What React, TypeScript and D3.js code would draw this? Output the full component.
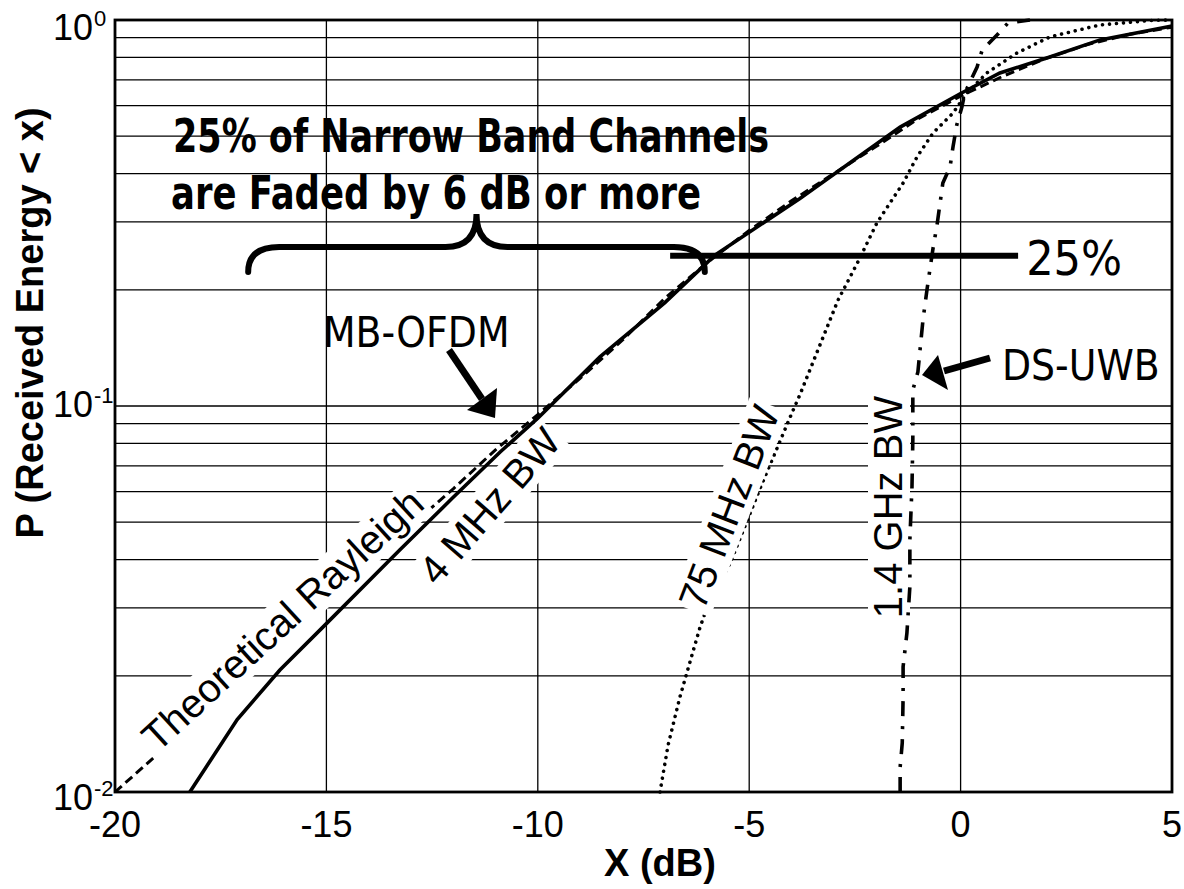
import React, { useEffect, useRef } from 'react';
import * as d3 from 'd3';

const W = 1184;
const H = 889;

// axes
const xDomain = [-20, 5];
const yDomain = [0.01, 1];
const xTicks = [-20, -15, -10, -5, 0, 5];
const xGridTicks = [-15, -10, -5, 0];
const yDecades = [1, 0.1, 0.01];
const yExponents = ['0', '-1', '-2'];
const yGridMultipliers = [1, 2, 3, 4, 5, 6, 7, 8, 9];
const yGridDecades = [0.01, 0.1];

// Theoretical Rayleigh (dashed)
const rayleighX = [-20, -19, -18, -17, -16, -15, -14, -13, -12, -11, -10, -9, -8, -7, -6, -5, -4, -3, -2, -1, 0, 1, 2, 3, 4, 5];
const rayleighP = [0.01, 0.0125, 0.0157, 0.0198, 0.0248, 0.031, 0.039, 0.049, 0.061, 0.077, 0.095, 0.118, 0.148, 0.19, 0.235, 0.285, 0.34, 0.4, 0.47, 0.555, 0.635, 0.715, 0.794, 0.864, 0.918, 0.958];

// 4 MHz BW (solid, MB-OFDM)
const bw4X = [-18.23, -17.11, -16.1, -15.03, -13.26, -12.0, -10.89, -10.0, -8.53, -7.0, -5.81, -3.8, -1.43, 0, 0.93, 2.11, 3.3, 5.0];
const bw4P = [0.01, 0.0154, 0.0207, 0.0271, 0.0424, 0.058, 0.076, 0.093, 0.134, 0.185, 0.246, 0.345, 0.528, 0.645, 0.729, 0.802, 0.888, 0.965];

// 75 MHz BW (dotted)
const bw75X = [-7.11, -6.92, -6.64, -6.16, -5.93, -5.45, -4.74, -3.99, -3.8, -2.9, -2.43, -1.98, -1.36, -1.03, -0.65, -0.18, 0.15, 0.62, 1.33, 2.11, 3.3, 4.48, 5.0];
const bw75P = [0.01, 0.0132, 0.0176, 0.0268, 0.0314, 0.0392, 0.0613, 0.0959, 0.107, 0.188, 0.236, 0.298, 0.378, 0.442, 0.51, 0.574, 0.647, 0.729, 0.821, 0.904, 0.971, 0.997, 1.0];

// 1.4 GHz BW (dash-dot, DS-UWB)
const bwGX = [-1.43, -1.43, -1.38, -1.36, -1.36, -1.27, -1.2, -1.2, -1.15, -1.13, -1.13, -1.13, -1.01, -0.96, -0.89, -0.79, -0.72, -0.65, -0.56, -0.42, -0.25, -0.18, -0.09, 0.03, 0.1, 0.39, 0.51, 0.86, 1.12, 1.64];
const bwGP = [0.01, 0.0116, 0.0134, 0.0176, 0.0211, 0.0258, 0.034, 0.045, 0.0617, 0.0816, 0.0948, 0.11, 0.1225, 0.1396, 0.167, 0.202, 0.228, 0.257, 0.293, 0.378, 0.416, 0.469, 0.535, 0.595, 0.647, 0.755, 0.836, 0.914, 0.982, 1.0];

const ARIAL = "'Liberation Sans', Arial, sans-serif";
const TAHOMA = "'DejaVu Sans Condensed', 'DejaVu Sans', sans-serif";

export default function App() {
  const ref = useRef<SVGSVGElement>(null);

  useEffect(() => {
    const svg = d3.select(ref.current);
    svg.selectAll('*').remove();

    const x = d3.scaleLinear().domain(xDomain).range([115, 1172]);
    const y = d3.scaleLog().domain(yDomain).range([792, 20]);
    const [x0, x1] = x.range();
    const [y0, y1] = y.range();

    svg.append('rect').attr('width', W).attr('height', H).attr('fill', '#fff');

    // gridlines
    const hVals: number[] = [];
    yGridDecades.forEach((d) => yGridMultipliers.forEach((m) => hVals.push(m * d)));
    hVals.push(1);
    svg.append('g').selectAll('line').data(hVals).join('line')
      .attr('x1', x0).attr('x2', x1)
      .attr('y1', (d) => y(d)).attr('y2', (d) => y(d))
      .attr('stroke', '#000').attr('stroke-width', 1.3);
    svg.append('g').selectAll('line').data(xGridTicks).join('line')
      .attr('x1', (d) => x(d)).attr('x2', (d) => x(d))
      .attr('y1', y1).attr('y2', y0)
      .attr('stroke', '#000').attr('stroke-width', 1.3);

    const line = d3.line<[number, number]>().x((d) => x(d[0])).y((d) => y(d[1]));
    const zip = (a: number[], b: number[]) => a.map((v, i) => [v, b[i]] as [number, number]);

    // curves behind label boxes
    svg.append('path').attr('d', line(zip(rayleighX, rayleighP)))
      .attr('fill', 'none').attr('stroke', '#000').attr('stroke-width', 3)
      .attr('stroke-dasharray', '9,5');
    svg.append('path').attr('d', line(zip(bw75X, bw75P)))
      .attr('fill', 'none').attr('stroke', '#000').attr('stroke-width', 3.6)
      .attr('stroke-linecap', 'round').attr('stroke-dasharray', '0.01,7');

    // rotated labels with white boxes
    const labels = [
      { text: 'Theoretical Rayleigh', cx: 292, cy: 630, rot: -42.5 },
      { text: '4 MHz BW', cx: 500, cy: 515, rot: -49 },
      { text: '75 MHz BW', cx: 742, cy: 512, rot: -69 },
      { text: '1.4 GHz BW', cx: 902, cy: 507, rot: -90 },
    ];
    const labelGroups = labels.map((l) => {
      const g = svg.append('g').attr('transform', `translate(${l.cx},${l.cy}) rotate(${l.rot})`);
      const r = g.append('rect').attr('fill', '#fff');
      const t = g.append('text').attr('text-anchor', 'middle').attr('font-family', ARIAL)
        .attr('font-size', 40).attr('fill', '#000').text(l.text);
      return { g, r, t };
    });
    labelGroups.forEach(({ r, t }) => {
      const bb = (t.node() as SVGTextElement).getBBox();
      const pad = 3;
      r.attr('x', bb.x - pad).attr('y', bb.y + 2).attr('width', bb.width + 2 * pad).attr('height', bb.height - 2);
    });
    const labelLayer = svg.append('g');

    svg.append('path').attr('d', line(zip(bw4X, bw4P)))
      .attr('fill', 'none').attr('stroke', '#000').attr('stroke-width', 3.6);
    svg.append('path').attr('d', line(zip(bwGX, bwGP)))
      .attr('fill', 'none').attr('stroke', '#000').attr('stroke-width', 3.6)
      .attr('stroke-dasharray', '15,10,3,10');

    labelGroups.forEach(({ g, t }) => {
      const tr = g.attr('transform');
      labelLayer.append('g').attr('transform', tr).node()!.appendChild(t.node() as Node);
    });

    // 25% bar
    const pBar = 0.245;
    svg.append('line').attr('x1', x(-6.87)).attr('x2', x(1.36)).attr('y1', y(pBar)).attr('y2', y(pBar))
      .attr('stroke', '#000').attr('stroke-width', 6);
    svg.append('text').attr('x', x(1.55)).attr('y', y(pBar) + 19).attr('font-family', TAHOMA)
      .attr('font-size', 48).text('25%');

    // brace
    const bl = x(-16.85), br = x(-6.05), bm = (bl + br) / 2;
    const by = 247, bEnd = 272, bTop = 214, r = 31;
    svg.append('path')
      .attr('d', `M${bl},${bEnd} Q${bl},${by} ${bl + r},${by} L${bm - r},${by} Q${bm},${by} ${bm},${bTop} Q${bm},${by} ${bm + r},${by} L${br - r},${by} Q${br},${by} ${br},${bEnd}`)
      .attr('fill', 'none').attr('stroke', '#000').attr('stroke-width', 6).attr('stroke-linecap', 'round');

    svg.append('text').attr('x', 173).attr('y', 152).attr('font-family', TAHOMA).attr('font-weight', 'bold')
      .attr('font-size', 46).attr('textLength', 596).attr('lengthAdjust', 'spacingAndGlyphs')
      .text('25% of Narrow Band Channels');
    svg.append('text').attr('x', 171).attr('y', 209).attr('font-family', TAHOMA).attr('font-weight', 'bold')
      .attr('font-size', 46).attr('textLength', 530).attr('lengthAdjust', 'spacingAndGlyphs')
      .text('are Faded by 6 dB or more');

    // MB-OFDM label + arrow
    svg.append('text').attr('x', 323).attr('y', 347).attr('font-family', TAHOMA).attr('font-size', 42).text('MB-OFDM');
    svg.append('line').attr('x1', 449).attr('y1', 350).attr('x2', 482).attr('y2', 399)
      .attr('stroke', '#000').attr('stroke-width', 7);
    svg.append('polygon').attr('points', '467,410 497,388 495,418').attr('fill', '#000');

    // DS-UWB label + arrow
    svg.append('text').attr('x', 1002).attr('y', 380).attr('font-family', TAHOMA).attr('font-size', 42).text('DS-UWB');
    svg.append('line').attr('x1', 990).attr('y1', 358).attr('x2', 944).attr('y2', 371)
      .attr('stroke', '#000').attr('stroke-width', 7);
    svg.append('polygon').attr('points', '938,355 948,390 922,375').attr('fill', '#000');

    // frame
    svg.append('rect').attr('x', x0).attr('y', y1).attr('width', x1 - x0).attr('height', y0 - y1)
      .attr('fill', 'none').attr('stroke', '#000').attr('stroke-width', 2.8);

    // x tick labels
    svg.append('g').selectAll('text').data(xTicks).join('text')
      .attr('x', (d) => x(d)).attr('y', 837).attr('text-anchor', 'middle')
      .attr('font-family', ARIAL).attr('font-size', 36).text((d) => String(d));

    // y tick labels
    const yOffsets = [20, 11, 18];
    yDecades.forEach((v, i) => {
      const base = y(v) + yOffsets[i];
      svg.append('text').attr('x', 93).attr('y', base).attr('text-anchor', 'end')
        .attr('font-family', ARIAL).attr('font-size', 36).text('10');
      svg.append('text').attr('x', 94).attr('y', base - 14)
        .attr('font-family', ARIAL).attr('font-size', 22).text(yExponents[i]);
    });

    // axis titles
    svg.append('text').attr('x', 660).attr('y', 876).attr('text-anchor', 'middle')
      .attr('font-family', ARIAL).attr('font-weight', 'bold').attr('font-size', 38).text('X (dB)');
    svg.append('text').attr('transform', 'translate(43,323) rotate(-90)').attr('text-anchor', 'middle')
      .attr('font-family', ARIAL).attr('font-weight', 'bold').attr('font-size', 38)
      .text('P (Received Energy < x)');
  }, []);

  return (
    <svg ref={ref} width={W} height={H} style={{ position: 'absolute', left: 0, top: 0, background: '#fff' }} />
  );
}
